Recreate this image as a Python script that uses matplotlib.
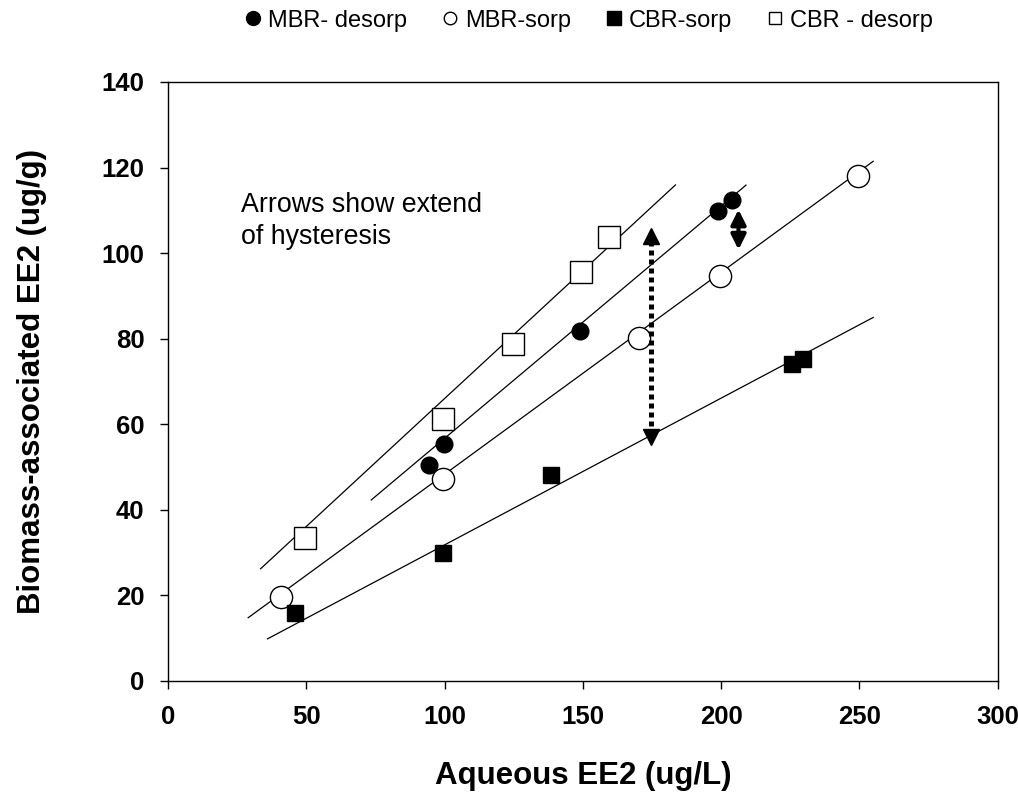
import matplotlib
matplotlib.use("Agg")
import matplotlib.pyplot as plt
from matplotlib.lines import Line2D
import numpy as np

plt.rcParams['font.family'] = ['Liberation Sans', 'DejaVu Sans']

# ---- data ----
mbr_desorp_x = [94.4, 99.8, 149.0, 199.0, 204.0]
mbr_desorp_y = [50.5, 55.5, 81.7, 109.8, 112.5]

mbr_sorp_x = [41.0, 99.6, 170.5, 199.5, 249.5]
mbr_sorp_y = [19.7, 47.3, 80.1, 94.7, 118.1]

cbr_sorp_x = [46.0, 99.6, 138.5, 225.5, 229.8]
cbr_sorp_y = [15.9, 30.0, 48.1, 74.0, 75.2]

cbr_desorp_x = [49.5, 99.6, 124.7, 149.3, 159.5]
cbr_desorp_y = [33.4, 61.3, 78.8, 95.5, 103.7]

# trend lines: x-range, slope, intercept
trend_names = ["CBR-desorp", "MBR-desorp", "MBR-sorp", "CBR-sorp"]
trend_x0 = [33.5, 73.5, 29.0, 36.0]
trend_x1 = [183.5, 209.0, 255.0, 255.0]
trend_slope = [0.598, 0.543, 0.472, 0.343]
trend_icpt = [6.2, 2.4, 1.1, -2.5]

# hysteresis arrows: x, y_bottom, y_top
dotted_arrow = (174.5, 55.0, 106.0)
small_arrow = (206.3, 100.8, 110.2)

xticks = [0, 50, 100, 150, 200, 250, 300]
yticks = [0, 20, 40, 60, 80, 100, 120, 140]

fig = plt.figure(figsize=(10.18, 7.95), dpi=100)
ax = fig.add_axes([0.165, 0.1434, 0.815, 0.7535])

# trend lines
for x0, x1, m, b in zip(trend_x0, trend_x1, trend_slope, trend_icpt):
    xs = np.array([x0, x1])
    ax.plot(xs, m * xs + b, color='black', lw=0.9, zorder=2)

# markers
ax.plot(mbr_desorp_x, mbr_desorp_y, 'o', ms=12, mfc='black', mec='black', zorder=3)
ax.plot(mbr_sorp_x, mbr_sorp_y, 'o', ms=16, mfc='white', mec='black', mew=1.0, zorder=3)
ax.plot(cbr_sorp_x, cbr_sorp_y, 's', ms=12, mfc='black', mec='black', zorder=3)
ax.plot(cbr_desorp_x, cbr_desorp_y, 's', ms=16, mfc='white', mec='black', mew=1.0, zorder=3)

# dotted double arrow
xa, yb, yt = dotted_arrow
ax.plot([xa, xa], [yb + 2.5, yt - 2.5], color='black', lw=3.6,
        ls=(0, (1, 0.8)), dash_capstyle='butt', zorder=4)
ax.plot([xa], [yt - 2.0], marker='^', ms=11, color='black', zorder=4)
ax.plot([xa], [yb + 2.0], marker='v', ms=11, color='black', zorder=4)

# small solid double arrow
xs_, yb2, yt2 = small_arrow
ax.annotate('', xy=(xs_, yt2), xytext=(xs_, yb2),
            arrowprops=dict(arrowstyle='<|-|>', color='black', lw=3,
                            mutation_scale=22, shrinkA=0, shrinkB=0), zorder=4)

ax.text(26.4, 114.2, "Arrows show extend\nof hysteresis", fontsize=19.3,
        ha='left', va='top', linespacing=1.3)

ax.set_xlim(0, 300)
ax.set_ylim(0, 140)
ax.set_xticks(xticks)
ax.set_yticks(yticks)
ax.tick_params(direction='out', length=6, width=1, labelsize=18.5, pad=11)
for lab in ax.get_xticklabels() + ax.get_yticklabels():
    lab.set_fontweight('bold')
for s in ax.spines.values():
    s.set_linewidth(1.0)

ax.set_xlabel("Aqueous EE2 (ug/L)", fontsize=22.5, fontweight='bold', labelpad=23)
ax.set_ylabel("Biomass-associated EE2 (ug/g)", fontsize=22.5, fontweight='bold', labelpad=39)

handles = [
    Line2D([], [], marker='o', ls='none', ms=10, mfc='black', mec='black'),
    Line2D([], [], marker='o', ls='none', ms=9, mfc='white', mec='black', mew=1.0),
    Line2D([], [], marker='s', ls='none', ms=10, mfc='black', mec='black'),
    Line2D([], [], marker='s', ls='none', ms=9, mfc='white', mec='black', mew=1.0),
]
labels = ["MBR- desorp", "MBR-sorp", "CBR-sorp", "CBR - desorp"]
fig.legend(handles, labels, loc='center', bbox_to_anchor=(0.578, 0.974), ncol=4,
           frameon=False, fontsize=17, handlelength=0.8, handletextpad=0.25,
           columnspacing=1.4)

fig.savefig("out.png", dpi=100)
